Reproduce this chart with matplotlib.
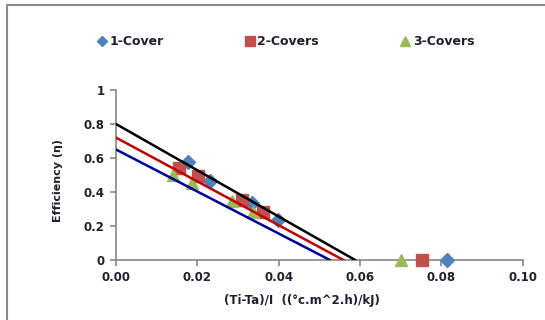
import matplotlib.pyplot as plt
from matplotlib.patches import Rectangle

# measured points (x = (Ti-Ta)/I, y = efficiency)
cover1_x = [0.0176, 0.0231, 0.0334, 0.0399, 0.0813]
cover1_y = [0.575, 0.465, 0.333, 0.235, 0.0]
cover2_x = [0.0155, 0.0202, 0.0309, 0.0362, 0.0752]
cover2_y = [0.540, 0.495, 0.353, 0.284, 0.0]
cover3_x = [0.0141, 0.0186, 0.0285, 0.0338, 0.0701]
cover3_y = [0.500, 0.451, 0.350, 0.284, 0.0]

# fitted lines (intercept at x=0, zero crossing)
fit1_x, fit1_y = [0.0, 0.0526], [0.65, 0.0]
fit2_x, fit2_y = [0.0, 0.0559], [0.72, 0.0]
fit3_x, fit3_y = [0.0, 0.0588], [0.80, 0.0]

xticks = [0.0, 0.02, 0.04, 0.06, 0.08, 0.10]
yticks = [0, 0.2, 0.4, 0.6, 0.8, 1]
ytick_labels = ["0", "0.2", "0.4", "0.6", "0.8", "1"]

txt = "#1f1f2f"
fig = plt.figure(figsize=(5.45, 3.2), dpi=100)
ax = fig.add_axes([0.2128, 0.1875, 0.7462, 0.53125])

ax.plot(cover1_x, cover1_y, "D", color="#4F81BD", ms=7, ls="none", label="1-Cover", clip_on=False, zorder=3)
ax.plot(cover2_x, cover2_y, "s", color="#C0504D", ms=9, ls="none", label="2-Covers", clip_on=False, zorder=3)
ax.plot(cover3_x, cover3_y, "^", color="#9BBB59", ms=9, ls="none", label="3-Covers", clip_on=False, zorder=3)

ax.plot(fit1_x, fit1_y, color="#00009A", lw=1.8, zorder=4)
ax.plot(fit2_x, fit2_y, color="#C00000", lw=1.8, zorder=4)
ax.plot(fit3_x, fit3_y, color="black", lw=1.8, zorder=4)

ax.set_xlim(0, 0.10)
ax.set_ylim(0, 1)
ax.set_xticks(xticks)
ax.set_xticklabels([f"{v:.2f}" for v in xticks])
ax.set_yticks(yticks)
ax.set_yticklabels(ytick_labels)

for s in ["top", "right"]:
    ax.spines[s].set_visible(False)
for s in ["left", "bottom"]:
    ax.spines[s].set_color("#868686")
    ax.spines[s].set_linewidth(1.2)
ax.tick_params(direction="out", length=4, color="#868686", width=1.2,
               labelsize=8.5, labelcolor=txt, pad=4)
for lab in ax.get_xticklabels() + ax.get_yticklabels():
    lab.set_fontweight("bold")

ax.set_xlabel("(Ti-Ta)/I  ((\u00b0c.m^2.h)/kJ)", fontsize=8.5, fontweight="bold", color=txt)
ax.xaxis.set_label_coords(0.457, -0.2)
ax.set_ylabel("Efficiency (\u03b7)", fontsize=8, fontweight="bold", color=txt)
ax.yaxis.set_label_coords(-0.13, 0.47)

fig.legend(loc="center", bbox_to_anchor=(0.523, 0.869), ncol=3, frameon=False,
           prop={"weight": "bold", "size": 9}, handletextpad=0.1,
           columnspacing=6.4, handlelength=1.0, markerscale=0.8,
           labelcolor=txt)

# chart area border (only left and top visible)
fig.patches.append(Rectangle((7 / 545, -0.1), 1.2, 1.1 - 5 / 320, transform=fig.transFigure,
                             fill=False, edgecolor="#8c8c8c", lw=1.5))

fig.savefig("out.png", dpi=100)
